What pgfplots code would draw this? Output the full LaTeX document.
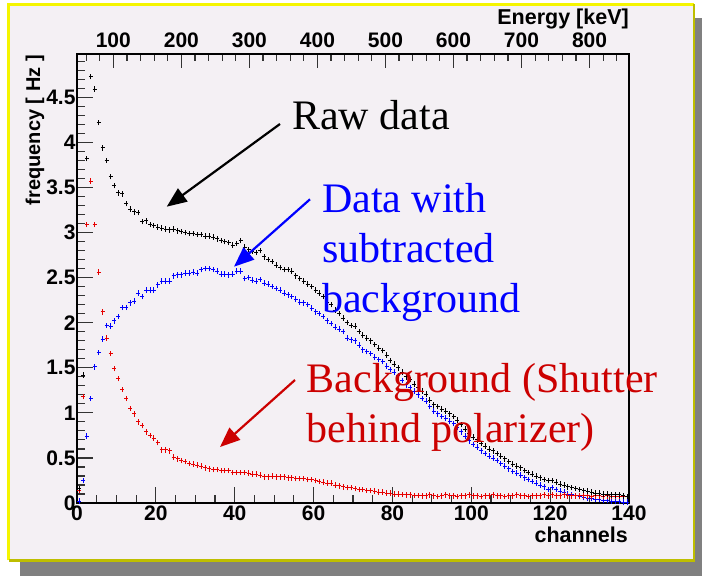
\documentclass[border=0pt]{standalone}
\usepackage{fontspec}
\setmainfont{Liberation Sans}
\newfontfamily\timesfont{Liberation Serif}
\usepackage{pgfplots}
\usepackage{pgfplotstable}
\pgfplotsset{compat=1.18}
\usetikzlibrary{arrows.meta}
\definecolor{bgcol}{RGB}{244,240,244}
\definecolor{bordery}{RGB}{245,245,0}
\definecolor{bordero}{RGB}{190,190,0}
\definecolor{shadowc}{RGB}{128,128,128}
\definecolor{rtxt}{RGB}{204,0,0}
\definecolor{rdat}{RGB}{230,0,0}

\pgfdeclareplotmark{rootcross}{%
  \pgfpathmoveto{\pgfqpoint{-2pt}{0pt}}\pgfpathlineto{\pgfqpoint{2pt}{0pt}}%
  \pgfpathmoveto{\pgfqpoint{0pt}{-2.8pt}}\pgfpathlineto{\pgfqpoint{0pt}{2.8pt}}%
  \pgfusepathqstroke}

\pgfplotstableread{
x raw bkg sub
0.5 0.16 0.14 0.02
1.5 1.42 1.18 0.25
2.5 3.82 3.09 0.74
3.5 4.73 3.57 1.16
4.5 4.59 3.09 1.51
5.5 4.22 2.56 1.67
6.5 3.94 2.12 1.82
7.5 3.80 1.83 1.97
8.5 3.62 1.66 1.96
9.5 3.52 1.49 2.02
10.5 3.44 1.38 2.07
11.5 3.43 1.26 2.17
12.5 3.32 1.16 2.17
13.5 3.26 1.05 2.22
14.5 3.23 0.99 2.24
15.5 3.22 0.90 2.33
16.5 3.12 0.86 2.29
17.5 3.13 0.79 2.36
18.5 3.09 0.75 2.36
19.5 3.08 0.72 2.36
20.5 3.06 0.67 2.42
21.5 3.05 0.59 2.46
22.5 3.04 0.59 2.46
23.5 3.03 0.58 2.46
24.5 3.04 0.51 2.52
25.5 3.02 0.49 2.53
26.5 3.01 0.47 2.53
27.5 3.00 0.46 2.55
28.5 2.99 0.44 2.55
29.5 2.99 0.43 2.56
30.5 2.98 0.42 2.55
31.5 2.98 0.41 2.59
32.5 2.96 0.39 2.60
33.5 2.96 0.38 2.60
34.5 2.95 0.37 2.59
35.5 2.93 0.37 2.57
36.5 2.91 0.36 2.54
37.5 2.90 0.36 2.54
38.5 2.89 0.36 2.53
39.5 2.86 0.34 2.54
40.5 2.88 0.34 2.57
41.5 2.91 0.34 2.57
42.5 2.84 0.34 2.49
43.5 2.81 0.33 2.50
44.5 2.79 0.32 2.47
45.5 2.78 0.32 2.46
46.5 2.80 0.31 2.48
47.5 2.73 0.29 2.44
48.5 2.70 0.29 2.43
49.5 2.68 0.30 2.40
50.5 2.64 0.29 2.38
51.5 2.61 0.29 2.36
52.5 2.59 0.29 2.33
53.5 2.59 0.28 2.31
54.5 2.57 0.28 2.29
55.5 2.52 0.27 2.26
56.5 2.49 0.27 2.23
57.5 2.46 0.27 2.22
58.5 2.43 0.26 2.20
59.5 2.40 0.26 2.16
60.5 2.36 0.25 2.12
61.5 2.33 0.24 2.10
62.5 2.29 0.23 2.07
63.5 2.23 0.22 2.02
64.5 2.20 0.22 1.99
65.5 2.14 0.20 1.95
66.5 2.10 0.19 1.93
67.5 2.05 0.18 1.90
68.5 2.00 0.17 1.83
69.5 1.97 0.17 1.81
70.5 1.96 0.16 1.80
71.5 1.90 0.15 1.75
72.5 1.86 0.15 1.70
73.5 1.83 0.14 1.68
74.5 1.80 0.14 1.66
75.5 1.76 0.13 1.62
76.5 1.72 0.12 1.59
77.5 1.69 0.12 1.57
78.5 1.64 0.11 1.52
79.5 1.58 0.11 1.48
80.5 1.54 0.10 1.45
81.5 1.50 0.10 1.41
82.5 1.45 0.095 1.36
83.5 1.40 0.09 1.31
84.5 1.37 0.09 1.28
85.5 1.32 0.085 1.24
86.5 1.28 0.085 1.20
87.5 1.24 0.08 1.16
88.5 1.21 0.08 1.13
89.5 1.14 0.09 1.07
90.5 1.09 0.08 1.02
91.5 1.07 0.07 0.99
92.5 1.04 0.08 0.96
93.5 1.02 0.09 0.94
94.5 0.99 0.08 0.91
95.5 0.96 0.08 0.88
96.5 0.92 0.07 0.84
97.5 0.87 0.08 0.79
98.5 0.82 0.08 0.74
99.5 0.77 0.09 0.69
100.5 0.73 0.08 0.65
101.5 0.70 0.08 0.62
102.5 0.66 0.07 0.58
103.5 0.63 0.08 0.55
104.5 0.60 0.08 0.52
105.5 0.58 0.09 0.50
106.5 0.55 0.08 0.47
107.5 0.52 0.08 0.44
108.5 0.49 0.07 0.41
109.5 0.46 0.08 0.38
110.5 0.43 0.08 0.35
111.5 0.41 0.09 0.33
112.5 0.39 0.08 0.31
113.5 0.36 0.08 0.28
114.5 0.34 0.07 0.26
115.5 0.32 0.08 0.24
116.5 0.30 0.08 0.22
117.5 0.28 0.08 0.20
118.5 0.26 0.09 0.18
119.5 0.25 0.08 0.15
120.5 0.25 0.09 0.17
121.5 0.23 0.08 0.15
122.5 0.21 0.08 0.13
123.5 0.20 0.09 0.12
124.5 0.18 0.08 0.10
125.5 0.17 0.08 0.09
126.5 0.16 0.08 0.08
127.5 0.15 0.08 0.07
128.5 0.14 0.08 0.06
129.5 0.13 0.08 0.05
130.5 0.12 0.07 0.05
131.5 0.11 0.08 0.04
132.5 0.11 0.08 0.04
133.5 0.10 0.07 0.03
134.5 0.10 0.08 0.03
135.5 0.09 0.07 0.02
136.5 0.09 0.07 0.02
137.5 0.09 0.07 0.02
138.5 0.08 0.07 0.01
139.5 0.07 0.07 0.01
}\spectrum

\begin{document}
\begin{tikzpicture}
\useasboundingbox (0pt,0pt) rectangle (702pt,576pt);
\fill[white] (0pt,0pt) rectangle (702pt,576pt);
\fill[shadowc] (20pt,0pt) rectangle (702pt,558pt);
\fill[bgcol] (8.7pt,15.5pt) rectangle (694pt,571.5pt);
\draw[bordery, line width=2.5pt] (8.7pt,15.5pt) -- (8.7pt,571.5pt) -- (694pt,571.5pt);
\draw[bordero, line width=2.5pt] (694pt,571.5pt) -- (694pt,15.5pt) -- (8.7pt,15.5pt);

% energy axis (top)
\begin{axis}[
  at={(77pt,73pt)}, anchor=south west, scale only axis,
  width=552pt, height=449pt,
  xmin=46.6, xmax=858, ymin=0, ymax=1,
  axis line style={draw=none},
  xtick={100,200,300,400,500,600,700,800},
  minor xtick={60,80,...,840},
  xtick pos=right, xticklabel pos=right, ytick=\empty,
  tick align=inside,
  major tick length=14pt, minor tick length=7.5pt,
  tick style={line width=1.2pt, black!80},
  /pgf/number format/assume math mode=true,
  ticklabel style={font=\bfseries\fontsize{21}{21}\selectfont},
  xticklabel style={yshift=3pt},
]
\end{axis}

\begin{axis}[
  at={(77pt,73pt)}, anchor=south west, scale only axis,
  width=552pt, height=449pt,
  xmin=0, xmax=140, ymin=0, ymax=4.98,
  axis line style={line width=1.6pt, black},
  xtick={0,20,40,60,80,100,120,140},
  minor xtick={0,5,...,140},
  ytick={0,0.5,1,1.5,2,2.5,3,3.5,4,4.5},
  minor ytick={0,0.1,...,4.95},
  xtick pos=left, ytick pos=left,
  tick align=inside,
  major tick length=15.5pt, minor tick length=8pt,
  tick style={line width=1.2pt, black!80},
  /pgf/number format/assume math mode=true,
  ticklabel style={font=\bfseries\fontsize{21}{21}\selectfont},
  yticklabel style={/pgf/number format/fixed, xshift=2pt},
  xticklabel style={yshift=1pt},
  clip=false,
]
\addplot[only marks, mark=rootcross, blue, mark options={line width=0.8pt}]
  table[x=x, y=sub] {\spectrum};
\addplot[only marks, mark=rootcross, rdat, mark options={line width=0.8pt}]
  table[x=x, y=bkg] {\spectrum};
\addplot[only marks, mark=rootcross, black, mark options={line width=0.8pt}]
  table[x=x, y=raw] {\spectrum};
\end{axis}

% axis titles
\node[anchor=base east, inner sep=0, font=\bfseries\fontsize{21.5}{21.5}\selectfont] at (629pt,551pt) {Energy [keV]};
\node[anchor=base east, inner sep=0, font=\bfseries\fontsize{21.5}{21.5}\selectfont] at (628pt,33pt) {channels};
\node[rotate=90, anchor=base east, inner sep=0, font=\bfseries\fontsize{20}{20}\selectfont] at (40pt,521pt) {frequency [ Hz ]};

% annotations
\draw[black, line width=2.2pt, -{Triangle[length=20pt,width=16pt]}] (280pt,452pt) -- (166.7pt,369.3pt);
\draw[blue, line width=2.2pt, -{Triangle[length=20pt,width=16pt]}] (310pt,376.7pt) -- (234pt,309.3pt);
\draw[rtxt, line width=2.2pt, -{Triangle[length=20pt,width=16pt]}] (295pt,196pt) -- (220pt,129pt);

\begin{scope}[every node/.style={anchor=base west, inner sep=0, font=\timesfont\fontsize{42}{42}\selectfont}]
\node at (292pt,446pt) {Raw data};
\node[blue] at (322pt,363pt) {Data with};
\node[blue] at (322pt,313pt) {subtracted};
\node[blue] at (322pt,263pt) {background};
\node[rtxt] at (306.5pt,183pt) {Background (Shutter};
\node[rtxt] at (306.5pt,133pt) {behind polarizer)};
\end{scope}
\end{tikzpicture}
\end{document}
